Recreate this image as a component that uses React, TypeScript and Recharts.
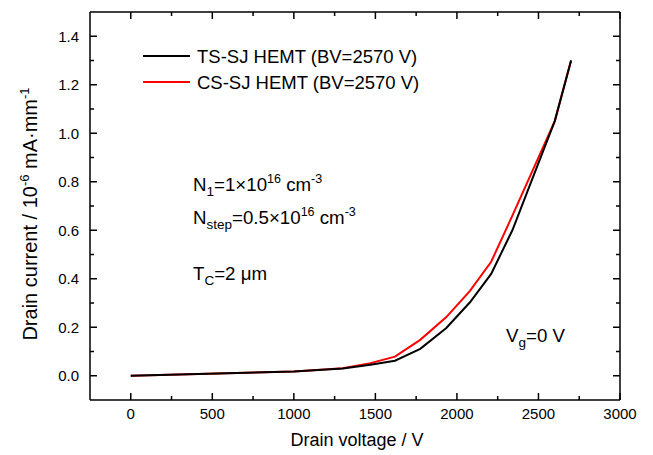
import React from 'react';
import { LineChart, Line, XAxis, YAxis, Customized } from 'recharts';

const voltage = [0, 1000, 1300, 1470, 1620, 1775, 1935, 2080, 2210, 2340, 2470, 2600, 2700];
const tsCurrent = [0, 0.018, 0.03, 0.045, 0.062, 0.111, 0.197, 0.303, 0.42, 0.6, 0.825, 1.05, 1.3];
const csCurrent = [0, 0.018, 0.031, 0.052, 0.079, 0.148, 0.242, 0.35, 0.47, 0.66, 0.855, 1.05, 1.3];

const xTicks = [0, 250, 500, 750, 1000, 1250, 1500, 1750, 2000, 2250, 2500, 2750, 3000];
const yTicks = [0, 0.1, 0.2, 0.3, 0.4, 0.5, 0.6, 0.7, 0.8, 0.9, 1.0, 1.1, 1.2, 1.3, 1.4];

const seriesNames = ['TS-SJ HEMT (BV=2570 V)', 'CS-SJ HEMT (BV=2570 V)'];
const seriesColors = ['#000000', '#ff0000'];

const tsData = voltage.map((v, i) => ({ v, i: tsCurrent[i] }));
const csData = voltage.map((v, i) => ({ v, i: csCurrent[i] }));

const FONT = '"Liberation Sans", Arial, Helvetica, sans-serif';
const MAJ = 7;
const MIN = 4;
const SW = 1.5;
const TICK_FS = 15;
const TXT_FS = 18.7;

const isMajorX = (v: number) => v % 500 === 0;
const isMajorY = (v: number) => Math.round(v * 10) % 2 === 0;

const BottomTick = (p: any) => {
  const { x, y, payload } = p;
  const v = payload.value;
  const major = isMajorX(v);
  return (
    <g>
      <line x1={x} x2={x} y1={y} y2={y - (major ? MAJ : MIN)} stroke="#000" strokeWidth={SW} />
      {major && (
        <text x={x} y={y + 19} textAnchor="middle" fontSize={TICK_FS} fontFamily={FONT} fill="#000">
          {v}
        </text>
      )}
    </g>
  );
};

const TopTick = (p: any) => {
  const { x, y, payload } = p;
  const major = isMajorX(payload.value);
  return <line x1={x} x2={x} y1={y} y2={y + (major ? MAJ : MIN)} stroke="#000" strokeWidth={SW} />;
};

const LeftTick = (p: any) => {
  const { x, y, payload } = p;
  const v = payload.value;
  const major = isMajorY(v);
  return (
    <g>
      <line x1={x} x2={x + (major ? MAJ : MIN)} y1={y} y2={y} stroke="#000" strokeWidth={SW} />
      {major && (
        <text x={x - 11} y={y} dy="0.36em" textAnchor="end" fontSize={TICK_FS} fontFamily={FONT} fill="#000">
          {v.toFixed(1)}
        </text>
      )}
    </g>
  );
};

const RightTick = (p: any) => {
  const { x, y, payload } = p;
  const major = isMajorY(payload.value);
  return <line x1={x} x2={x - (major ? MAJ : MIN)} y1={y} y2={y} stroke="#000" strokeWidth={SW} />;
};

const Annotations = () => (
  <g fontFamily={FONT} fill="#000">
    {/* legend */}
    <line x1={143} x2={190} y1={56} y2={56} stroke={seriesColors[0]} strokeWidth={2} />
    <text x={197} y={62.5} fontSize={18.5}>{seriesNames[0]}</text>
    <line x1={143} x2={190} y1={82} y2={82} stroke={seriesColors[1]} strokeWidth={2} />
    <text x={197} y={88.5} fontSize={18.5}>{seriesNames[1]}</text>

    <text x={193} y={191} fontSize={TXT_FS}>
      N<tspan fontSize={13.5} dy={5}>1</tspan>
      <tspan dy={-5}>=1×10</tspan>
      <tspan fontSize={12.5} dy={-8}>16</tspan>
      <tspan dy={8}> cm</tspan>
      <tspan fontSize={12.5} dy={-8}>-3</tspan>
    </text>
    <text x={193} y={224} fontSize={TXT_FS}>
      N<tspan fontSize={13.5} dy={5}>step</tspan>
      <tspan dy={-5}>=0.5×10</tspan>
      <tspan fontSize={12.5} dy={-8}>16</tspan>
      <tspan dy={8}> cm</tspan>
      <tspan fontSize={12.5} dy={-8}>-3</tspan>
    </text>
    <text x={193} y={280} fontSize={TXT_FS}>
      T<tspan fontSize={13.5} dy={5}>C</tspan>
      <tspan dy={-5}>=2 μm</tspan>
    </text>
    <text x={506} y={342} fontSize={TXT_FS}>
      V<tspan fontSize={13.5} dy={5}>g</tspan>
      <tspan dy={-5}>=0 V</tspan>
    </text>

    {/* axis titles */}
    <text x={357} y={446} textAnchor="middle" fontSize={18}>Drain voltage / V</text>
    <text transform="translate(37,214) rotate(-90)" textAnchor="middle" fontSize={20}>
      Drain current / 10<tspan fontSize={13} dy={-8}>-6</tspan>
      <tspan dy={8}> mA·mm</tspan>
      <tspan fontSize={13} dy={-8}>-1</tspan>
    </text>
  </g>
);

export default function App() {
  return (
    <div style={{ position: 'absolute', left: 0, top: 0, width: 653, height: 455, background: '#fff' }}>
      <LineChart width={653} height={455} margin={{ top: 11, right: 32, bottom: 0, left: 0 }}>
        <XAxis
          xAxisId={0}
          type="number"
          dataKey="v"
          domain={[-250, 3000]}
          ticks={xTicks}
          interval={0}
          allowDataOverflow
          height={55}
          tickSize={0}
          tickMargin={0}
          tickLine={false}
          tick={<BottomTick />}
          axisLine={{ stroke: '#000', strokeWidth: SW }}
        />
        <XAxis
          xAxisId="top"
          orientation="top"
          type="number"
          dataKey="v"
          domain={[-250, 3000]}
          ticks={xTicks}
          interval={0}
          allowDataOverflow
          height={1}
          tickSize={0}
          tickMargin={0}
          tickLine={false}
          tick={<TopTick />}
          axisLine={{ stroke: '#000', strokeWidth: SW }}
        />
        <YAxis
          yAxisId={0}
          type="number"
          domain={[-0.1, 1.5]}
          ticks={yTicks}
          interval={0}
          allowDataOverflow
          width={90}
          tickSize={0}
          tickMargin={0}
          tickLine={false}
          tick={<LeftTick />}
          axisLine={{ stroke: '#000', strokeWidth: SW }}
        />
        <YAxis
          yAxisId="right"
          orientation="right"
          type="number"
          domain={[-0.1, 1.5]}
          ticks={yTicks}
          interval={0}
          allowDataOverflow
          width={1}
          tickSize={0}
          tickMargin={0}
          tickLine={false}
          tick={<RightTick />}
          axisLine={{ stroke: '#000', strokeWidth: SW }}
        />
        <Line
          data={csData}
          dataKey="i"
          name={seriesNames[1]}
          type="linear"
          stroke={seriesColors[1]}
          strokeWidth={2}
          dot={false}
          isAnimationActive={false}
        />
        <Line
          data={tsData}
          dataKey="i"
          name={seriesNames[0]}
          type="linear"
          stroke={seriesColors[0]}
          strokeWidth={2}
          dot={false}
          isAnimationActive={false}
        />
        <Customized component={Annotations} />
      </LineChart>
    </div>
  );
}
